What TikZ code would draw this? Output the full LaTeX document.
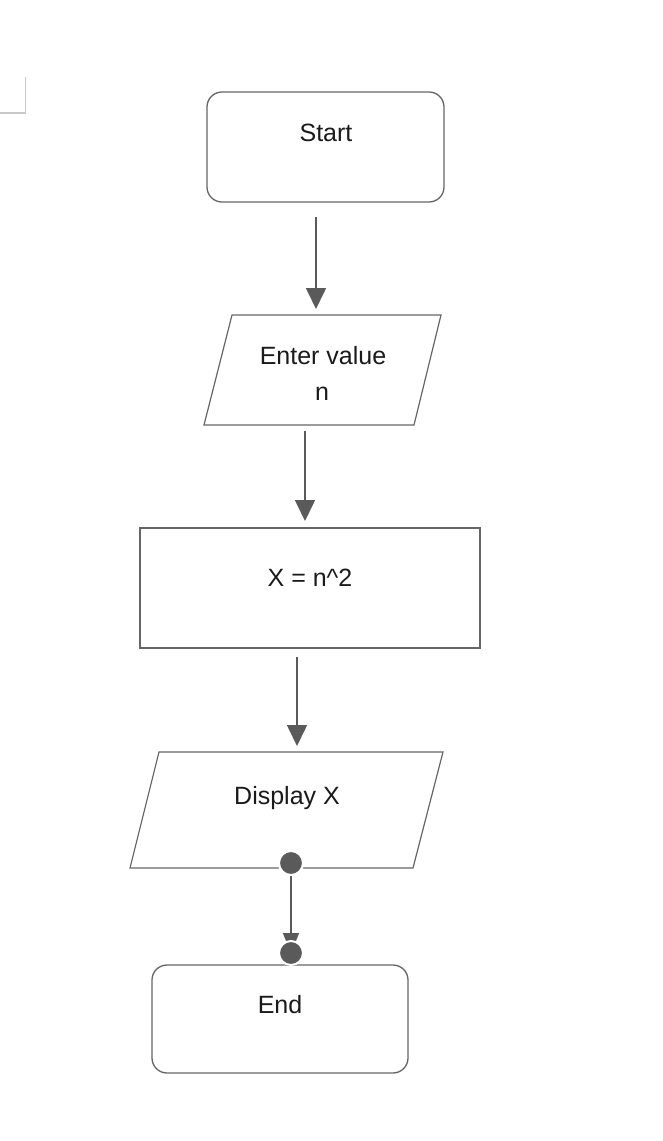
\documentclass[tikz,border=0pt]{standalone}
\usepackage{fontspec}
\setmainfont{Liberation Sans}
\usetikzlibrary{arrows.meta}
\definecolor{edge}{HTML}{666666}
\definecolor{arrowc}{HTML}{5A5A5A}
\definecolor{txt}{HTML}{1A1A1A}
\definecolor{corner}{HTML}{C8C8C8}
\tikzset{
  term/.style={draw=edge, line width=1.3pt, rounded corners=15pt, fill=white, inner sep=0pt},
  procbox/.style={draw=edge, line width=1.3pt, fill=white, inner sep=0pt},
  iobox/.style={draw=edge, line width=1.2pt},
  lbl/.style={anchor=base, text=txt, inner sep=0pt, font=\fontsize{25}{36}\selectfont, align=center},
  flow/.style={draw=arrowc, line width=1.6pt, -{Triangle[width=20pt,length=21pt]}},
  dotc/.style={circle, fill=arrowc, draw=white, line width=2pt, minimum size=24pt, inner sep=0pt}
}
\begin{document}
\begin{tikzpicture}[x=1pt,y=-1pt]
\useasboundingbox (0,0) rectangle (662,1141);
\fill[white] (0,0) rectangle (662,1141);
% corner mark
\draw[corner, line width=1.3pt] (25.5,77) -- (25.5,113) -- (0,113);

% Start
\node[term, minimum width=237pt, minimum height=110pt] (start) at (325.5,147) {};
\node[lbl] (startt) at (326,141) {Start};

% Enter value
\draw[iobox] (232,315) -- (441,315) -- (414,425) -- (204,425) -- cycle;
\node[lbl] (entert) at (323,364) {Enter value};
\node[lbl] (entern) at (322,400) {n};

% Process
\node[procbox, minimum width=340pt, minimum height=120pt] (proc) at (310,588) {};
\node[lbl] (proct) at (310,586) {X = n\^{}2};

% Display X
\draw[iobox] (159,752) -- (443,752) -- (413,868) -- (130,868) -- cycle;
\node[lbl] (dispt) at (287,804) {Display X};

% End
\node[term, minimum width=256pt, minimum height=108pt] (endn) at (280,1019) {};
\node[lbl] (endt) at (280,1013) {End};

% connectors
\coordinate (a1s) at (316,217); \coordinate (a1e) at (316,309);
\coordinate (a2s) at (305,431); \coordinate (a2e) at (305,521);
\coordinate (a3s) at (297,657); \coordinate (a3e) at (297,746);
\draw[flow] (a1s) -- (a1e);
\draw[flow] (a2s) -- (a2e);
\draw[flow] (a3s) -- (a3e);

\node[dotc] (d1) at (291,863) {};
\coordinate (d2c) at (291,953);
\draw[draw=arrowc, line width=1.6pt, -{Triangle[width=16pt,length=20pt]}] (d1.center) -- (d2c);
\node[dotc] (d2) at (291,953) {};
\node[dotc] at (291,863) {};
\end{tikzpicture}
\end{document}
